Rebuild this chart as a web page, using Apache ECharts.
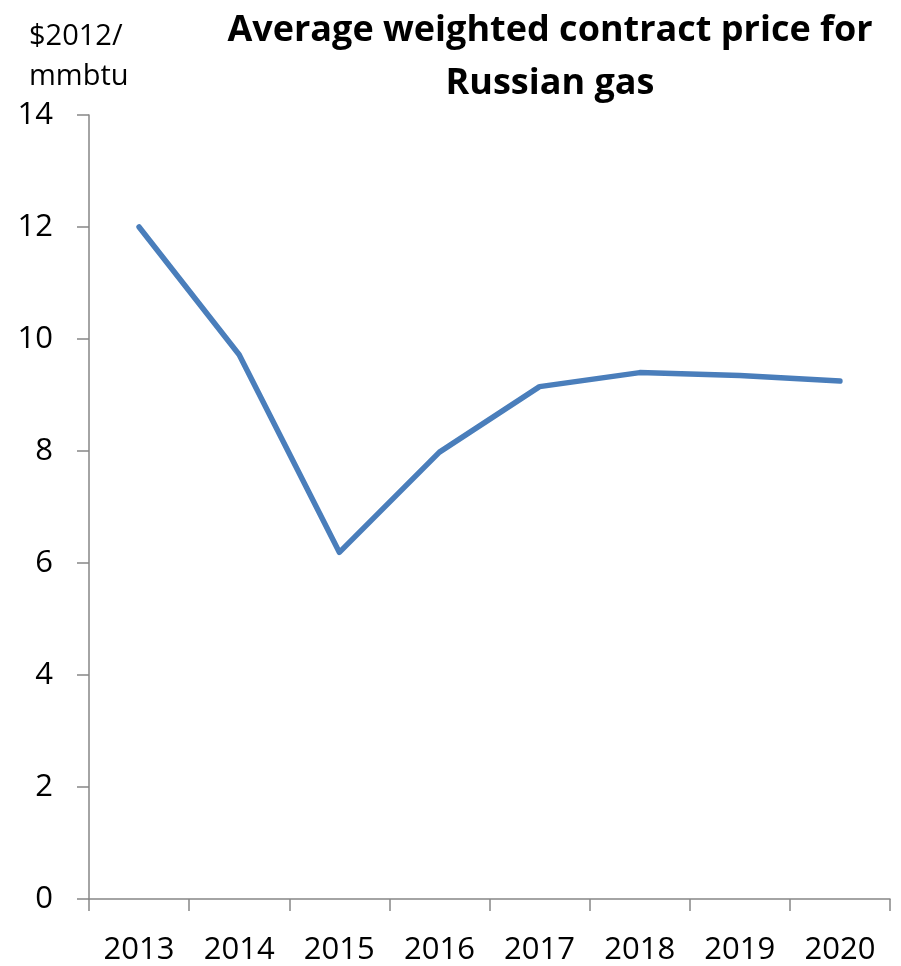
<!DOCTYPE html>
<html>
<head>
<meta charset="utf-8">
<script src="https://cdn.jsdelivr.net/npm/echarts@6/dist/echarts.min.js"></script>
<style>
  html, body { margin: 0; padding: 0; background: #ffffff; }
  #chart { width: 901px; height: 966px; }
</style>
</head>
<body>
<div id="chart"></div>
<script>
// Average weighted contract price for Russian gas, $2012 per mmbtu
const years = ['2013', '2014', '2015', '2016', '2017', '2018', '2019', '2020'];
const prices = [12.0, 9.72, 6.19, 7.98, 9.15, 9.40, 9.35, 9.25];
const yTicks = [0, 2, 4, 6, 8, 10, 12, 14];

const axisGray = '#868686';
const font = '"Open Sans", "Liberation Sans", sans-serif';

const chart = echarts.init(document.getElementById('chart'), null, { renderer: 'canvas' });

chart.setOption({
  animation: false,
  backgroundColor: '#ffffff',
  title: [
    {
      text: 'Average weighted contract price for\nRussian gas',
      left: 545,
      top: -1,
      textAlign: 'center',
      textStyle: {
        fontFamily: font,
        fontWeight: 'bold',
        fontSize: 36,
        lineHeight: 53,
        color: '#000000'
      }
    },
    {
      text: '$2012/\nmmbtu',
      left: 24,
      top: 12,
      textStyle: {
        fontFamily: font,
        fontWeight: 'normal',
        fontSize: 29,
        lineHeight: 40,
        color: '#000000'
      }
    }
  ],
  grid: { left: 89, right: 11, top: 115, bottom: 65, containLabel: false },
  xAxis: {
    type: 'category',
    data: years,
    boundaryGap: true,
    axisLine: { show: true, lineStyle: { color: axisGray, width: 1.5 } },
    axisTick: { show: true, alignWithLabel: false, length: 12, lineStyle: { color: axisGray, width: 1.5 } },
    axisLabel: { fontFamily: font, fontSize: 31, color: '#000000', margin: 36 },
    splitLine: { show: false }
  },
  yAxis: {
    type: 'value',
    min: yTicks[0],
    max: yTicks[yTicks.length - 1],
    interval: 2,
    axisLine: { show: true, lineStyle: { color: axisGray, width: 1.5 } },
    axisTick: { show: true, length: 12, lineStyle: { color: axisGray, width: 1.5 } },
    axisLabel: { fontFamily: font, fontSize: 31, color: '#000000', margin: 36 },
    splitLine: { show: false }
  },
  series: [
    {
      type: 'line',
      data: prices,
      symbol: 'none',
      smooth: false,
      lineStyle: { color: '#4A7EBB', width: 5.5, cap: 'round', join: 'round' },
      itemStyle: { color: '#4A7EBB' }
    }
  ]
});
</script>
</body>
</html>
